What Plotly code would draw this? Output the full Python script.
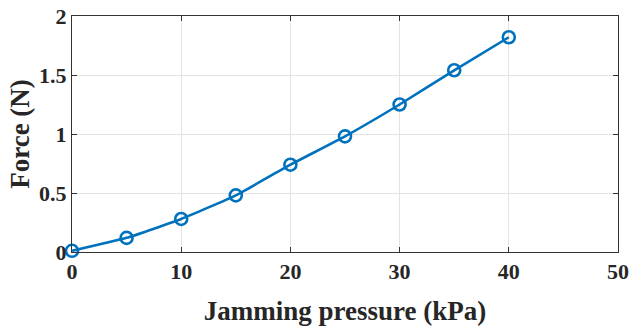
import plotly.graph_objects as go

pressure = [0, 5, 10, 15, 20, 25, 30, 35, 40]
force = [0.01, 0.12, 0.28, 0.48, 0.74, 0.98, 1.25, 1.54, 1.82]
x_ticks = [0, 10, 20, 30, 40, 50]
y_ticks = [0, 0.5, 1, 1.5, 2]
y_tick_text = ["0", "0.5", "1", "1.5", "2"]

color = "#0072BD"
fig = go.Figure()
fig.add_trace(go.Scatter(
    x=pressure, y=force, mode="lines+markers",
    line=dict(color=color, width=2.6, shape="spline", smoothing=0.4),
    marker=dict(symbol="circle-open", size=12, color=color, line=dict(width=2.6, color=color)),
    showlegend=False, cliponaxis=False,
))

font = dict(family="Liberation Serif", size=22, color="#262626")
axis_common = dict(
    showline=True, linecolor="#333333", linewidth=1, mirror="ticks",
    ticks="inside", ticklen=5, tickcolor="#333333",
    showgrid=True, gridcolor="#e3e3e3", gridwidth=1,
    zeroline=False, tickfont=font, automargin=False,
)
fig.update_layout(
    width=630, height=332,
    margin=dict(l=72, r=12, t=16, b=80),
    paper_bgcolor="white", plot_bgcolor="white",
    xaxis=dict(range=[0, 50], tickvals=x_ticks, ticktext=["<b>%d</b>" % t for t in x_ticks],
               title=dict(text="<b>Jamming pressure (kPa)</b>", font=dict(family="Liberation Serif", size=27, color="#262626"), standoff=17),
               **axis_common),
    yaxis=dict(range=[0, 2], tickvals=y_ticks, ticktext=["<b>%s</b>" % t for t in y_tick_text],
               title=dict(text="<b>Force (N)</b>", font=dict(family="Liberation Serif", size=27, color="#262626"), standoff=1),
               **axis_common),
)
fig.write_html("out.html")
